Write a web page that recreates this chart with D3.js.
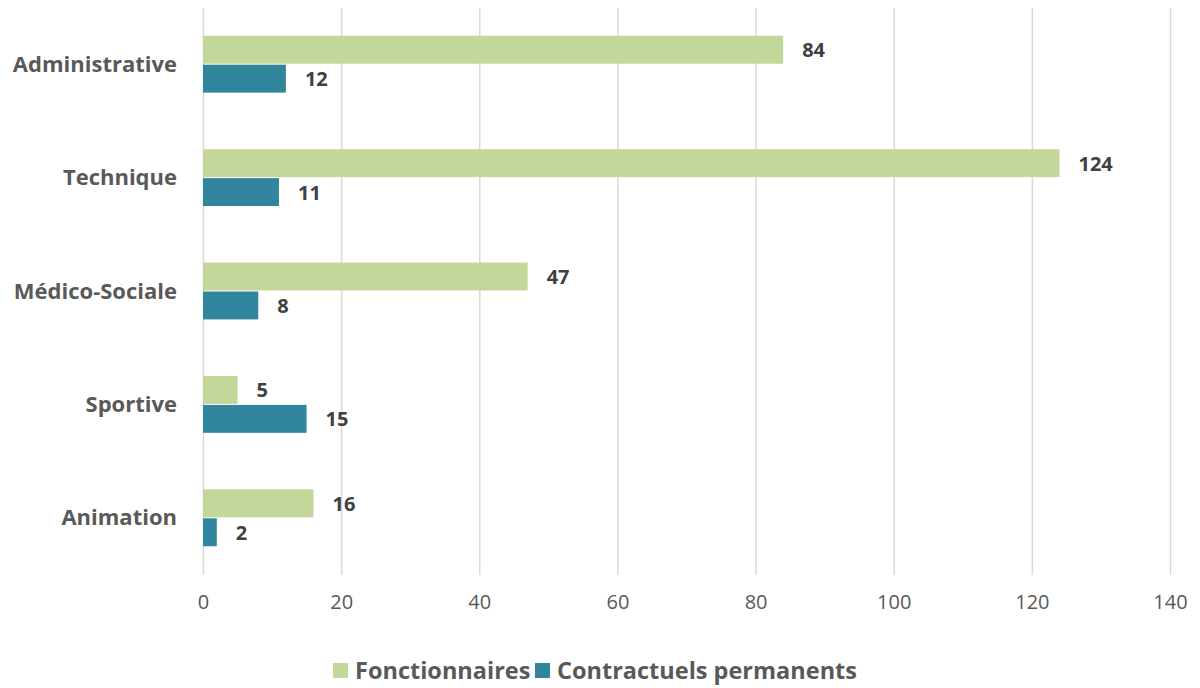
<!DOCTYPE html>
<html><head><meta charset="utf-8">
<script src="https://cdn.jsdelivr.net/npm/d3@7"></script>
<style>body{margin:0;background:#fff;} svg{display:block;font-family:"Open Sans",sans-serif;}</style>
</head><body>
<svg id="c" width="1200" height="688"></svg>
<script>
const categories = ["Administrative","Technique","Médico-Sociale","Sportive","Animation"];
const seriesNames = ["Fonctionnaires","Contractuels permanents"];
const fonctionnaires = [84,124,47,5,16];
const contractuels = [12,11,8,15,2];
const tickValues = [0,20,40,60,80,100,120,140];
const colors = ["#C4D79B","#31859C"];

const svg = d3.select("#c");
const x = d3.scaleLinear().domain([0,140]).range([203,1170]);
const y0 = d3.scaleBand().domain(categories).range([8,575]).paddingInner(0.49).paddingOuter(0.245);
const y1 = d3.scaleBand().domain(seriesNames).range([0,y0.bandwidth()]).padding(0);
const data = categories.map((c,i)=>({cat:c, vals:[fonctionnaires[i],contractuels[i]]}));

// gridlines
const xAxis = d3.axisBottom(x).tickValues(tickValues).tickSize(-(575-8)).tickPadding(20);
const gx = svg.append("g").attr("transform","translate(0,575)").call(xAxis);
gx.select(".domain").remove();
gx.selectAll(".tick line").attr("stroke","#D9D9D9").attr("stroke-width",1.5);
gx.selectAll(".tick text").attr("fill","#595959").style("font-size","20px").style("font-family","'Open Sans',sans-serif");

// category labels
const yAxis = d3.axisLeft(y0).tickSize(0).tickPadding(26);
const gy = svg.append("g").attr("transform","translate(203,0)").call(yAxis);
gy.select(".domain").remove();
gy.selectAll(".tick text").attr("fill","#595959").style("font-size","22px").style("font-weight","bold").style("font-family","'Open Sans',sans-serif");

const groups = svg.append("g").selectAll("g").data(data).join("g")
  .attr("transform",d=>`translate(0,${y0(d.cat)})`);
groups.selectAll("rect").data(d=>d.vals.map((v,i)=>({v,s:seriesNames[i],i}))).join("rect")
  .attr("x",x(0)).attr("y",d=>y1(d.s)).attr("height",y1.bandwidth()-1)
  .attr("width",d=>x(d.v)-x(0)).attr("fill",d=>colors[d.i]);
groups.selectAll("text").data(d=>d.vals.map((v,i)=>({v,s:seriesNames[i],i}))).join("text")
  .attr("x",d=>x(d.v)+19).attr("y",d=>y1(d.s)+y1.bandwidth()/2).attr("dy","0.35em")
  .attr("fill","#404040").style("font-size","20px").style("font-weight","bold").text(d=>d.v);

// legend
const legend = svg.append("g");
const leg = [{n:seriesNames[0],c:colors[0],x:333},{n:seriesNames[1],c:colors[1],x:535}];
leg.forEach(l=>{
  legend.append("rect").attr("x",l.x).attr("y",663).attr("width",15).attr("height",15).attr("fill",l.c);
  legend.append("text").attr("x",l.x+22).attr("y",671).attr("dy","0.35em").attr("fill","#595959")
    .style("font-size","23.5px").style("font-weight","bold").text(l.n);
});
</script>
</body></html>
